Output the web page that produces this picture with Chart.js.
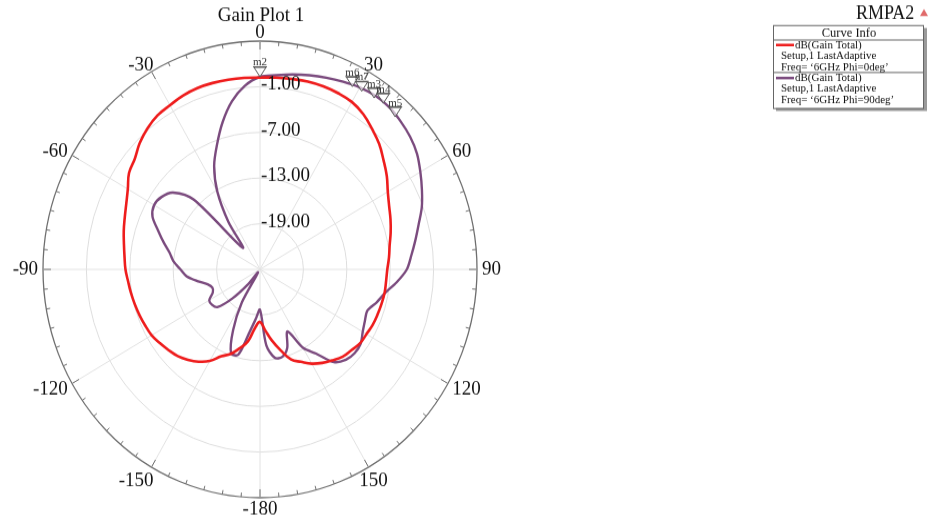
<!DOCTYPE html>
<html>
<head>
<meta charset="utf-8">
<title>Gain Plot 1</title>
<script src="https://cdn.jsdelivr.net/npm/chart.js@4.4.1/dist/chart.umd.min.js"></script>
<style>
  html, body { margin: 0; padding: 0; background: #fff; }
  #page { position: relative; width: 937px; height: 524px; overflow: hidden; }
  /* the source picture is a little taller than wide, so stretch the drawing */
  #wrap { position: absolute; left: 0; top: 0; width: 937px; height: 498px; transform: scaleY(1.0522); transform-origin: 0 0; }
</style>
</head>
<body>
<div id="page"><div id="wrap"><canvas id="gainPlot"></canvas></div></div>
<script>
  'use strict';

  // theta in degrees, clockwise from the top
  var angleLabels = [0, 5, 10, 15, 20, 25, 30, 35, 40, 45, 50, 55, 60, 65, 70, 75, 80, 85,
    90, 95, 100, 105, 110, 115, 120, 125, 130, 135, 140, 145, 150, 155, 160, 165, 170, 175,
    180, -175, -170, -165, -160, -155, -150, -145, -140, -135, -130, -125, -120, -115, -110, -105, -100, -95,
    -90, -85, -80, -75, -70, -65, -60, -55, -50, -45, -40, -35, -30, -25, -20, -15, -10, -5];

  // dB(Gain Total), Phi = 0deg
  var gainPhi0 = [0.2, 0.3, 0.4, 0.55, 0.6, 0.55, 0.4, -0.1, -0.9, -1.7, -2.7, -3.6, -4.6, -5.3, -5.8, -6.3, -6.8, -7.1,
    -7.4, -7.5, -7.5, -7.6, -7.7, -7.8, -8.0, -8.1, -8.5, -8.8, -9.4, -10.0, -10.7, -11.6, -12.4, -14.0, -15.5, -17.0,
    -18.1, -17.3, -15.4, -14.3, -13.2, -12.4, -11.1, -10.2, -9.5, -8.9, -8.5, -8.1, -7.7, -7.5, -7.3, -7.1, -6.9, -6.7,
    -6.4, -6.2, -5.9, -5.5, -5.1, -4.6, -3.9, -2.9, -2.4, -1.5, -0.8, -0.3, -0.1, 0.2, 0.35, 0.35, 0.3, 0.25];

  // dB(Gain Total), Phi = 90deg
  var gainPhi90 = [0.3, 0.6, 1.0, 1.4, 1.8, 2.2, 2.6, 2.85, 2.8, 2.5, 2.1, 1.5, 0.6, -0.3, -1.2, -2.3, -3.2, -4.0,
    -4.7, -6.0, -7.4, -8.3, -9.2, -9.0, -8.6, -8.0, -7.9, -8.2, -9.1, -11.5, -13.1, -16.0, -14.0, -13.1, -13.2, -15.0,
    -19.7, -18.5, -16.6, -13.4, -13.3, -16.2, -20.0, -24.5, -22.5, -19.6, -17.3, -16.9, -16.9, -17.8, -18.0, -17.5, -16.2, -14.8,
    -14.0, -13.0, -12.3, -11.2, -10.0, -8.6, -8.1, -8.4, -9.3, -12.0, -21.3, -17.4, -13.2, -10.0, -7.6, -5.0, -2.6, -0.8];

  var radialTicks = [-19, -13, -7, -1];

  var markerNames = ['m2', 'm6', 'm7', 'm3', 'm4', 'm5'];
  var markerAngles = [0, 28, 31, 35, 38, 43];
  var markerValues = [0.3, 2.2, 2.3, 2.5, 2.7, 2.4];

  var SY = 1.0522;
  var SERIF = '"Liberation Serif", "Times New Roman", serif';
  var RED = '#ee1d1d';
  var PURPLE = '#7b4b7e';

  function Y(y) {
    return y / SY;
  }

  /**
   * rim ticks, angle labels, dB labels, markers and the curve info box
   */
  var polarDecor = {
    id: 'polarDecor',
    afterDraw: function (chart) {
      var ctx = chart.ctx;
      var scale = chart.scales.r;
      var xc = scale.xCenter;
      var yc = scale.yCenter;
      var R = scale.drawingArea;

      ctx.save();

      // ticks on the outer circle
      ctx.strokeStyle = '#6e6e6e';
      ctx.lineWidth = 1;
      angleLabels.forEach(function (a, i) {
        var len = (a % 30 === 0) ? 8 : 4;
        var p1 = scale.getPointPosition(i, R);
        var p2 = scale.getPointPosition(i, R - len);
        ctx.beginPath();
        ctx.moveTo(p1.x, p1.y);
        ctx.lineTo(p2.x, p2.y);
        ctx.stroke();
      });

      // angle labels
      ctx.fillStyle = '#111';
      ctx.font = '19px ' + SERIF;
      angleLabels.forEach(function (a, i) {
        if (a % 30 !== 0) {
          return;
        }
        var t = a * Math.PI / 180;
        var s = Math.sin(t), c = Math.cos(t);
        var side = Math.abs(s) > 0.6;
        var p = scale.getPointPosition(i, R + (side ? 5 : 2));
        var x = p.x, y = p.y;
        if (side) {
          ctx.textAlign = s > 0 ? 'left' : 'right';
          ctx.textBaseline = 'middle';
          y += Math.abs(c) > 0.1 ? (c > 0 ? -1 : 3) : 0;
        } else {
          ctx.textBaseline = 'alphabetic';
          if (Math.abs(s) < 0.1) {
            ctx.textAlign = 'center';
          } else if (s > 0) {
            ctx.textAlign = 'center';
            x += 4;
          } else {
            ctx.textAlign = 'right';
            x += 3;
          }
          if (Math.abs(s) < 0.1) {
            y = c > 0 ? y - 1 : y + 14;
          } else {
            y = c > 0 ? y + 0.5 : y + 16;
          }
        }
        ctx.fillText(a === 180 ? '-180' : String(a), x, y);
      });

      // dB labels along the 0 deg line
      ctx.textAlign = 'left';
      ctx.textBaseline = 'middle';
      radialTicks.forEach(function (v) {
        var r = scale.getDistanceFromCenterForValue(v);
        ctx.fillText(v.toFixed(2), xc + 1, yc - r - 2);
      });

      // markers
      ctx.font = '11px ' + SERIF;
      markerNames.forEach(function (name, i) {
        var t = markerAngles[i] * Math.PI / 180;
        var r = scale.getDistanceFromCenterForValue(markerValues[i]);
        var x = xc + r * Math.sin(t);
        var y = yc - r * Math.cos(t);
        ctx.beginPath();
        ctx.moveTo(x, y);
        ctx.lineTo(x - 6, y - 9);
        ctx.lineTo(x + 6, y - 9);
        ctx.closePath();
        ctx.fillStyle = 'rgba(255,255,255,0.6)';
        ctx.fill();
        ctx.strokeStyle = '#555';
        ctx.lineWidth = 1;
        ctx.stroke();
        ctx.fillStyle = '#333';
        ctx.textAlign = 'center';
        ctx.textBaseline = 'alphabetic';
        ctx.fillText(name, x, y - 10.5);
        var w = ctx.measureText(name).width;
        ctx.beginPath();
        ctx.moveTo(x - w / 2, y - 9.5);
        ctx.lineTo(x + w / 2, y - 9.5);
        ctx.stroke();
      });

      // title
      ctx.fillStyle = '#111';
      ctx.font = '19px ' + SERIF;
      ctx.textAlign = 'center';
      ctx.textBaseline = 'alphabetic';
      ctx.fillText('Gain Plot 1', xc + 1, Y(21));

      // project name and curve info box
      ctx.font = '18px ' + SERIF;
      ctx.textAlign = 'left';
      ctx.textBaseline = 'middle';
      ctx.fillText('RMPA2', 856, Y(14));
      ctx.fillStyle = '#e06a6a';
      ctx.beginPath();
      ctx.moveTo(924, Y(9));
      ctx.lineTo(928, Y(16));
      ctx.lineTo(920, Y(16));
      ctx.closePath();
      ctx.fill();

      ctx.fillStyle = '#9a9a9a';
      ctx.fillRect(776, Y(28), 151, Y(83));
      ctx.fillStyle = '#fff';
      ctx.fillRect(773, Y(25), 151, Y(83));
      ctx.strokeStyle = '#666';
      ctx.lineWidth = 1;
      ctx.strokeRect(773.5, Y(25) + 0.5, 150, Y(83));
      ctx.beginPath();
      ctx.moveTo(773.5, Y(40));
      ctx.lineTo(923.5, Y(40));
      ctx.moveTo(773.5, Y(72.5));
      ctx.lineTo(923.5, Y(72.5));
      ctx.stroke();

      ctx.fillStyle = '#111';
      ctx.textAlign = 'center';
      ctx.font = '12.5px ' + SERIF;
      ctx.fillText('Curve Info', 849, Y(33));

      var entries = [
        {color: RED, lines: ['dB(Gain Total)', 'Setup,1 LastAdaptive', 'Freq= \u20186GHz Phi=0deg\u2019'], top: 45},
        {color: PURPLE, lines: ['dB(Gain Total)', 'Setup,1 LastAdaptive', 'Freq= \u20186GHz Phi=90deg\u2019'], top: 78}
      ];
      ctx.font = '11px ' + SERIF;
      ctx.textAlign = 'left';
      entries.forEach(function (e) {
        ctx.strokeStyle = e.color;
        ctx.lineWidth = 2.5;
        ctx.beginPath();
        ctx.moveTo(776, Y(e.top));
        ctx.lineTo(794, Y(e.top));
        ctx.stroke();
        ctx.fillStyle = '#111';
        e.lines.forEach(function (txt, k) {
          ctx.fillText(txt, k === 0 ? 795 : 781, Y(e.top + k * 11));
        });
      });

      ctx.restore();
    }
  };

  var canvas = document.getElementById('gainPlot');

  var gainChart = new Chart(canvas, {
    type: 'radar',
    data: {
      labels: angleLabels,
      datasets: [{
        label: 'dB(Gain Total) Phi=0deg',
        data: gainPhi0,
        borderColor: RED,
        borderWidth: 2.6,
        backgroundColor: 'rgba(0,0,0,0)',
        fill: false,
        pointRadius: 0,
        tension: 0.4
      }, {
        label: 'dB(Gain Total) Phi=90deg',
        data: gainPhi90,
        borderColor: PURPLE,
        borderWidth: 2.4,
        backgroundColor: 'rgba(0,0,0,0)',
        fill: false,
        pointRadius: 0,
        tension: 0.3
      }]
    },
    options: {
      responsive: true,
      maintainAspectRatio: false,
      animation: false,
      layout: {
        padding: {left: 43, top: 39, right: 460, bottom: 25}
      },
      plugins: {
        legend: {display: false},
        tooltip: {enabled: false},
        title: {display: false}
      },
      scales: {
        r: {
          min: -25,
          max: 5,
          ticks: {stepSize: 6, display: false},
          pointLabels: {display: false},
          grid: {
            circular: true,
            color: function (c) {
              return c.index === 5 ? '#6e6e6e' : '#dedede';
            },
            lineWidth: function (c) {
              return c.index === 5 ? 1.3 : 1;
            }
          },
          angleLines: {
            color: function (c) {
              return angleLabels[c.index] % 30 === 0 ? '#e2e2e2' : 'rgba(0,0,0,0)';
            },
            lineWidth: 1
          }
        }
      }
    },
    plugins: [polarDecor]
  });
</script>
</body>
</html>
